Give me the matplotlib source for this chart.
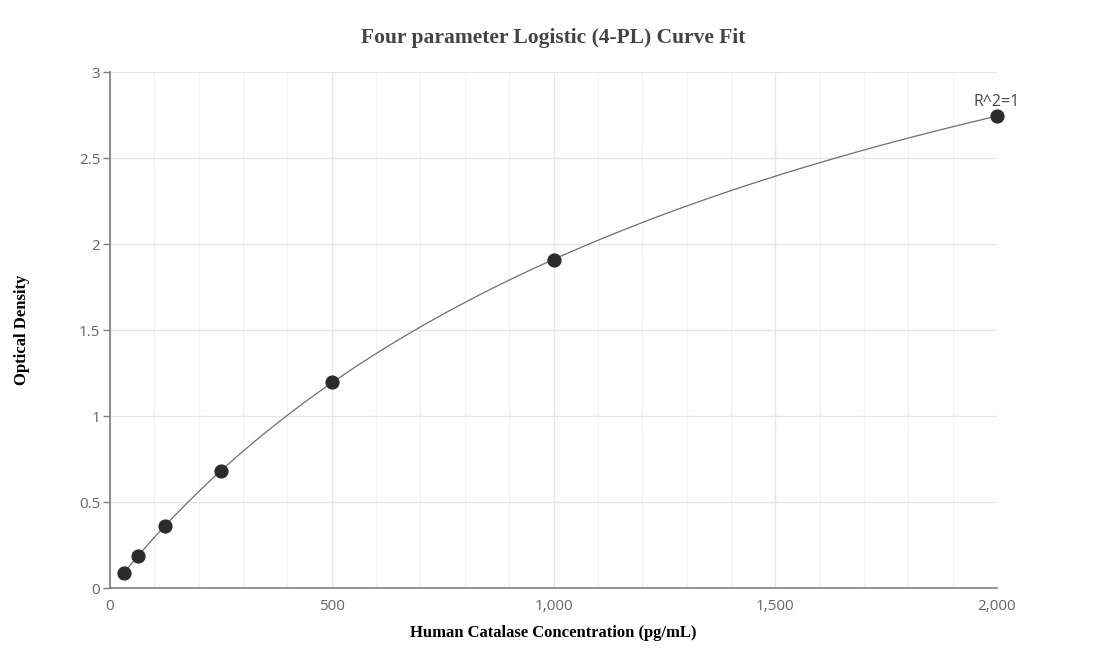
import numpy as np
import matplotlib.pyplot as plt
from matplotlib.ticker import MultipleLocator, FuncFormatter

# standard concentrations (pg/mL) and measured optical density
conc = [31.25, 62.5, 125, 250, 500, 1000, 2000]
od = [0.09, 0.185, 0.36, 0.68, 1.2, 1.905, 2.745]
r2_label = "R^2=1"


def four_pl(x, p):
    a, b, c, d = p
    return d + (a - d) / (1.0 + (x / c) ** b)


def fit_four_pl(x, y):
    # simple Gauss-Newton with numerical jacobian
    x = np.asarray(x, float)
    y = np.asarray(y, float)
    p = np.array([0.0, 1.0, 1500.0, 5.0])
    for _ in range(200):
        r = y - four_pl(x, p)
        J = np.zeros((len(x), 4))
        for k in range(4):
            dp = np.zeros(4)
            dp[k] = 1e-6 * max(abs(p[k]), 1.0)
            J[:, k] = (four_pl(x, p + dp) - four_pl(x, p)) / dp[k]
        step, *_ = np.linalg.lstsq(J, r, rcond=None)
        p = p + 0.5 * step
        p[2] = max(p[2], 1.0)
    return p


params = fit_four_pl(conc, od)
xs = np.linspace(min(conc), max(conc), 400)
ys = four_pl(xs, params)

fig = plt.figure(figsize=(11.07, 6.72), dpi=100)
ax = fig.add_axes([110 / 1107, 84 / 672, 887 / 1107, 516 / 672])

ax.plot(xs, ys, color='#6e6e6e', linewidth=0.9, zorder=3)
ax.scatter(conc, od, s=85, color='#2b2b2b', zorder=4, clip_on=False)
ax.annotate(r2_label, (conc[-1], od[-1]), xytext=(0, 4), textcoords='offset points',
            ha='center', va='bottom', fontsize=11.5, color='#444444', family='Open Sans')

ax.set_xlim(0, 2000)
ax.set_ylim(0, 3)
ax.xaxis.set_major_locator(MultipleLocator(500))
ax.xaxis.set_minor_locator(MultipleLocator(100))
ax.yaxis.set_major_locator(MultipleLocator(0.5))
ax.xaxis.set_major_formatter(FuncFormatter(lambda v, _: f"{v:,.0f}"))
ax.yaxis.set_major_formatter(FuncFormatter(lambda v, _: f"{v:g}"))

ax.grid(True, which='major', color='#e3e6ec', linewidth=1.0)
ax.grid(True, which='minor', axis='x', color='#f1f2f5', linewidth=0.9)
ax.set_axisbelow(True)

for side in ['top', 'right']:
    ax.spines[side].set_visible(False)
for side in ['left', 'bottom']:
    ax.spines[side].set_color('#7f7f7f')
    ax.spines[side].set_linewidth(1.2)

ax.tick_params(axis='both', which='major', direction='out', length=5, width=1,
               color='#7f7f7f', labelcolor='#666666', labelsize=11, pad=2)
ax.tick_params(axis='x', which='major', length=0, pad=8)
ax.tick_params(axis='x', which='minor', length=0)
for lab in ax.get_xticklabels() + ax.get_yticklabels():
    lab.set_family('Open Sans')

ax.set_xlabel('Human Catalase Concentration (pg/mL)', family='Liberation Serif',
              fontweight='bold', fontsize=12, labelpad=8)
ax.set_ylabel('Optical Density', family='Liberation Serif',
              fontweight='bold', fontsize=12, labelpad=0)
ax.yaxis.set_label_coords(-80 / 887, 0.5)
fig.suptitle('Four parameter Logistic (4-PL) Curve Fit', family='Liberation Serif',
             fontweight='bold', fontsize=15.5, color='#444444', x=553.5 / 1107, y=1 - 38 / 672,
             va='center')

fig.savefig('out.png', dpi=100)
